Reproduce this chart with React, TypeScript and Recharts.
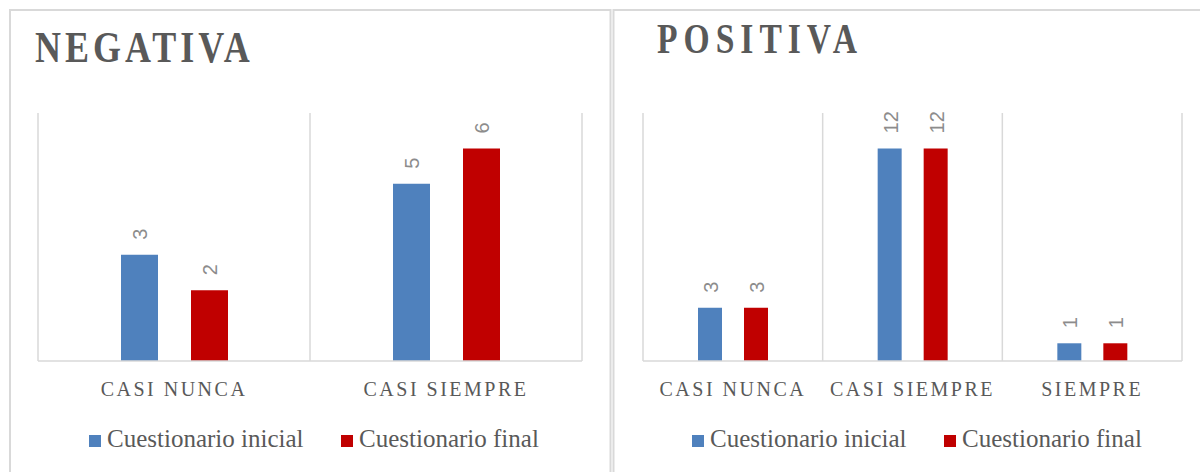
import React from "react";
import { BarChart, Bar, XAxis, YAxis, CartesianGrid, LabelList } from "recharts";

const negCategories = ["CASI NUNCA", "CASI SIEMPRE"];
const negInicial = [3, 5];
const negFinal = [2, 6];

const posCategories = ["CASI NUNCA", "CASI SIEMPRE", "SIEMPRE"];
const posInicial = [3, 12, 1];
const posFinal = [3, 12, 1];

const seriesNames = ["Cuestionario inicial", "Cuestionario final"];
const seriesColors = ["#4f81bd", "#c00000"];

const negData = negCategories.map((c, i) => ({ cat: c, inicial: negInicial[i], final: negFinal[i] }));
const posData = posCategories.map((c, i) => ({ cat: c, inicial: posInicial[i], final: posFinal[i] }));

const GRID = "#d9d9d9";
const TEXT = "#595959";
const SERIF = "'Liberation Serif', 'Times New Roman', serif";

const CatTick = (props: any) => {
  const { x, y, payload } = props;
  return (
    <text
      x={x}
      y={y}
      dy={27}
      textAnchor="middle"
      fill={TEXT}
      fontFamily={SERIF}
      fontSize={20}
      letterSpacing={2.5}
    >
      {payload.value}
    </text>
  );
};

const VLabel = (props: any) => {
  const { x, y, width, value } = props;
  const cx = x + width / 2 + 1;
  const cy = y - 15;
  return (
    <text
      x={cx}
      y={cy}
      transform={`rotate(-90, ${cx}, ${cy})`}
      textAnchor="start"
      dominantBaseline="central"
      fill="#8c8c8c"
      fontFamily="'Liberation Sans', Arial, sans-serif"
      fontSize={20}
    >
      {value}
    </text>
  );
};

const gridGen = (n: number) => (props: any) => {
  const { offset } = props;
  const out: number[] = [];
  for (let i = 0; i <= n; i++) out.push(offset.left + (i * offset.width) / n);
  return out;
};

function Panel({
  data,
  n,
  max,
  left,
  mLeft,
  mRight,
  barSize,
  barGap,
}: {
  data: any[];
  n: number;
  max: number;
  left: number;
  mLeft: number;
  mRight: number;
  barSize: number;
  barGap: number;
}) {
  return (
    <div style={{ position: "absolute", left, top: 0 }}>
      <BarChart
        width={600}
        height={472}
        data={data}
        margin={{ top: 113, right: mRight, left: mLeft, bottom: 71 }}
        barSize={barSize}
        barGap={barGap}
        barCategoryGap={0}
      >
        <CartesianGrid
          horizontal={false}
          vertical={true}
          stroke={GRID}
          strokeWidth={1.5}
          verticalCoordinatesGenerator={gridGen(n)}
        />
        <XAxis
          dataKey="cat"
          height={40}
          tickLine={false}
          axisLine={{ stroke: GRID, strokeWidth: 1.5 }}
          tick={<CatTick />}
          interval={0}
        />
        <YAxis hide domain={[0, max]} />
        <Bar dataKey="inicial" fill={seriesColors[0]} isAnimationActive={false}>
          <LabelList dataKey="inicial" content={<VLabel />} />
        </Bar>
        <Bar dataKey="final" fill={seriesColors[1]} isAnimationActive={false}>
          <LabelList dataKey="final" content={<VLabel />} />
        </Bar>
      </BarChart>
    </div>
  );
}

function LegendItems({ x1, x2 }: { x1: number; x2: number }) {
  const xs = [x1, x2];
  return (
    <g>
      {seriesNames.map((name, i) => (
        <g key={name}>
          <rect x={xs[i]} y={435} width={12} height={12} fill={seriesColors[i]} />
          <text x={xs[i] + 18} y={447} fill={TEXT} fontFamily={SERIF} fontSize={25}>
            {name}
          </text>
        </g>
      ))}
    </g>
  );
}

export default function App() {
  return (
    <div style={{ position: "absolute", left: 0, top: 0, width: 1200, height: 472, background: "#fff", overflow: "hidden" }}>
      <svg width={1200} height={472} style={{ position: "absolute", left: 0, top: 0 }}>
        <rect x={10} y={10} width={600.5} height={480} fill="none" stroke={GRID} strokeWidth={2} />
        <rect x={613.5} y={10} width={620} height={480} fill="none" stroke={GRID} strokeWidth={2} />
      </svg>
      <Panel data={negData} n={2} max={7} left={0} mLeft={38} mRight={18} barSize={37} barGap={33} />
      <Panel data={posData} n={3} max={14} left={600} mLeft={43} mRight={18} barSize={24} barGap={22} />
      <svg width={1200} height={472} style={{ position: "absolute", left: 0, top: 0, pointerEvents: "none" }}>
        <text
          x={0}
          y={0}
          transform="translate(35,62) scale(0.8,1)"
          fill={TEXT}
          fontFamily={SERIF}
          fontWeight="bold"
          fontSize={45}
          letterSpacing={5}
        >
          NEGATIVA
        </text>
        <text
          x={0}
          y={0}
          transform="translate(657,53) scale(0.8,1)"
          fill={TEXT}
          fontFamily={SERIF}
          fontWeight="bold"
          fontSize={42}
          letterSpacing={7.5}
        >
          POSITIVA
        </text>
        <LegendItems x1={89} x2={341} />
        <LegendItems x1={692} x2={944} />
      </svg>
    </div>
  );
}
